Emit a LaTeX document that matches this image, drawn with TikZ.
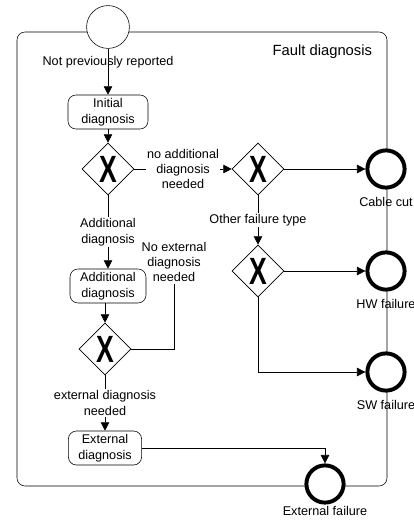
\documentclass[tikz,border=0pt]{standalone}
\usepackage{fontspec}
\setmainfont{Liberation Sans}
\usetikzlibrary{shapes.geometric,arrows.meta,positioning}

\begin{document}
\begin{tikzpicture}[x=0.025cm, y=-0.025cm,
    every node/.style={font=\fontsize{9}{11}\selectfont},
    task/.style={rectangle, draw, rounded corners=0.2cm, align=center, minimum height=0.85cm, inner xsep=7pt, inner ysep=2pt},
    gateway/.style={diamond, draw, fill=white, minimum size=1.3cm, inner sep=0pt},
    startevent/.style={circle, draw, fill=white, minimum size=1.07cm, inner sep=0pt},
    endevent/.style={circle, draw, fill=white, line width=2.8pt, minimum size=0.93cm, inner sep=0pt},
    lbl/.style={align=center, inner sep=1pt},
    arrow/.style={->, >={Triangle[length=6pt,width=6pt]}}
]
\useasboundingbox (0,0) rectangle (414,521);

% Pool
\draw[rounded corners=0.2cm] (17,32) rectangle (387,486);
\node[anchor=east, font=\fontsize{10.5}{12}\selectfont] (pool) at (377,52) {Fault diagnosis};

% Events
\node[startevent] (start) at (108,27) {};
\node[endevent] (cable) at (386,169) {};
\node[endevent] (hw) at (386,271) {};
\node[endevent] (sw) at (386,372) {};
\node[endevent] (extfail) at (325,484) {};
\node[below=2pt of cable] (cablelbl) {Cable cut};
\node[below=2pt of hw] (hwlbl) {HW failure};
\node[below=2pt of sw] (swlbl) {SW failure};
\node[below=0pt of extfail, inner sep=1pt] (extfaillbl) {External failure};

% Tasks
\node[task, minimum width=2cm] (init) at (108,112) {Initial\\diagnosis};
\node[task, minimum width=1.9cm] (addbox) at (108,286) {Additional\\diagnosis};
\node[task, minimum width=1.8cm] (extbox) at (105,448) {External\\diagnosis};

% Gateways
\node[gateway] (gw1) at (108,169) {\scalebox{0.7}[1]{\fontsize{27}{27}\selectfont\bfseries X}};
\node[gateway] (gw2) at (258,169) {\scalebox{0.7}[1]{\fontsize{27}{27}\selectfont\bfseries X}};
\node[gateway] (gw3) at (258,271) {\scalebox{0.7}[1]{\fontsize{27}{27}\selectfont\bfseries X}};
\node[gateway] (gw4) at (105,349) {\scalebox{0.7}[1]{\fontsize{27}{27}\selectfont\bfseries X}};

\node[lbl] (noext) at (174,262) {No external\\diagnosis\\needed};

% Flows
\draw[arrow] (start) -- node[lbl, pos=0.3] (notrep) {Not previously reported} (init);
\draw[arrow] (init) -- (gw1);
\draw[arrow] (gw1) -- node[lbl, fill=white] (noadd) {no additional\\diagnosis\\needed} (gw2);
\draw[arrow] (gw2) -- (cable);
\draw[arrow] (gw2) -- node[lbl, fill=white] (other) {Other failure type} (gw3);
\draw[arrow] (gw3) -- (hw);
\draw[arrow] (gw3.south) |- (sw.west);
\draw[arrow] (gw1) -- node[lbl, fill=white] (addlbl) {Additional\\diagnosis} (addbox);
\draw[arrow] (addbox.south -| gw4.north) -- (gw4.north);
\draw (gw4.east) -| (noext.south);
\draw[arrow] (gw4) -- node[lbl, fill=white] (extlbl) {external diagnosis\\needed} (extbox);
\draw[arrow] (extbox.east) -| (extfail.north);

\end{tikzpicture}
\end{document}
